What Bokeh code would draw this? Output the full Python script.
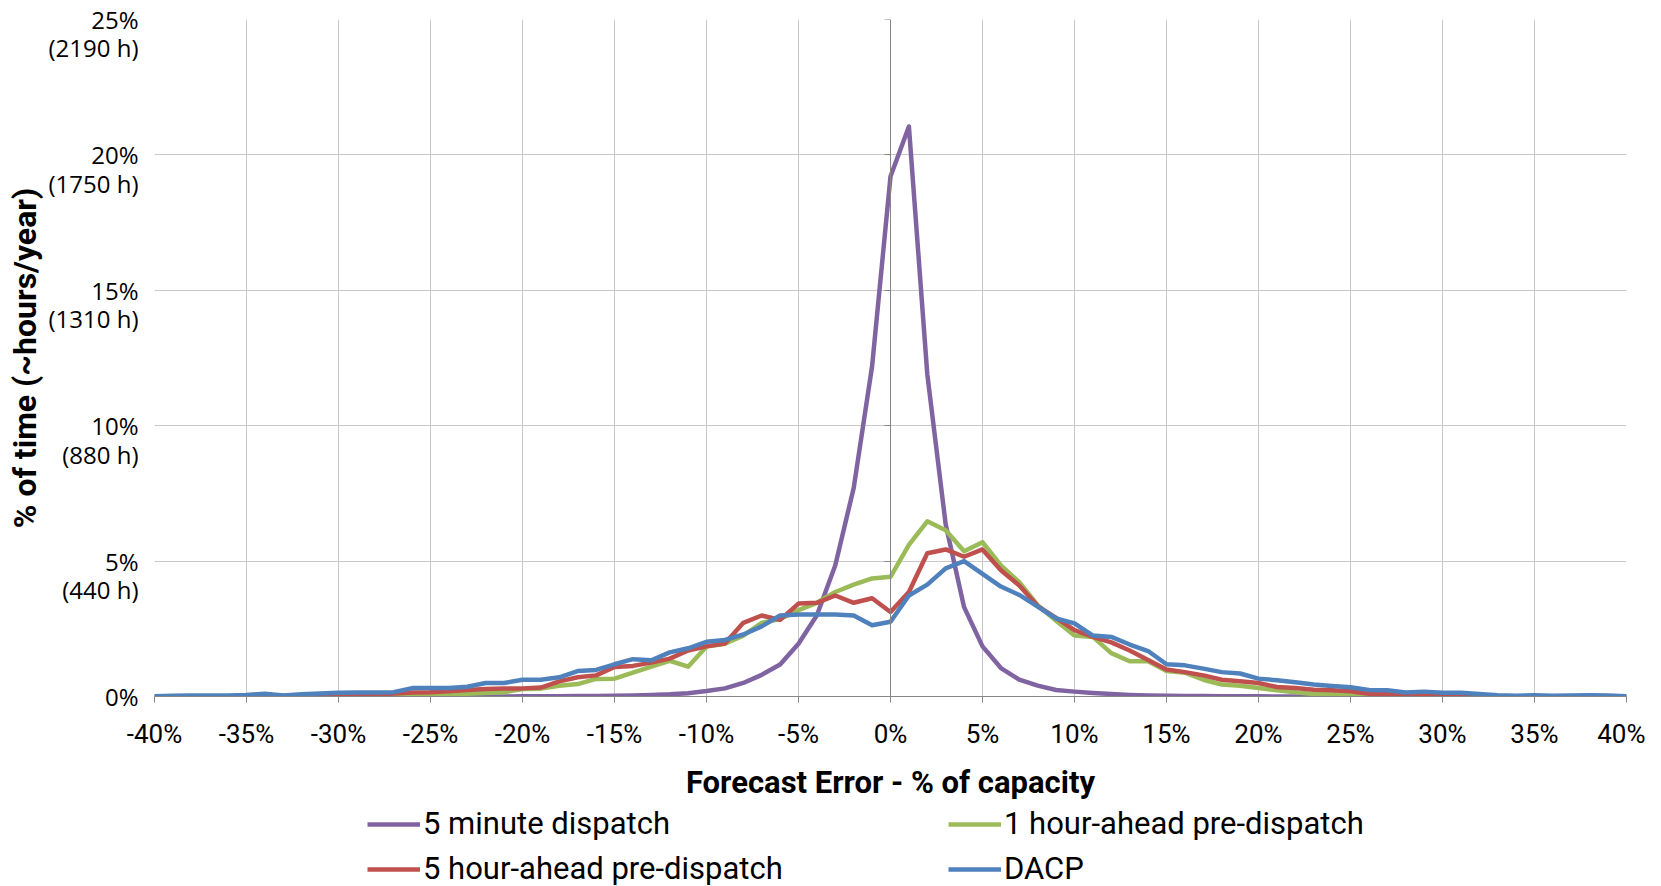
from bokeh.plotting import figure
from bokeh.layouts import column
from bokeh.models import (FixedTicker, LinearAxis, Legend, LegendItem, Range1d)
from bokeh.embed import file_html
from bokeh.resources import INLINE

# ---------------- data ----------------
error_pct = list(range(-40, 41))

five_minute = [0, 0, 0, 0, 0, 0, 0, 0, 0, 0,
               0, 0, 0, 0, 0, 0, 0, 0, 0, 0,
               0.01, 0.01, 0.01, 0.02, 0.02, 0.03, 0.04, 0.06, 0.08, 0.12,
               0.2, 0.3, 0.5, 0.8, 1.18, 1.95, 3.0, 4.85, 7.7, 12.2,
               19.2, 21.05, 11.9, 6.35, 3.3, 1.85, 1.05, 0.62, 0.4, 0.24, 0.18,
               0.13, 0.09, 0.06, 0.04, 0.03, 0.02, 0.02, 0.01, 0.01, 0.01,
               0, 0, 0, 0, 0, 0, 0, 0, 0, 0,
               0, 0, 0, 0, 0, 0, 0, 0, 0, 0]

one_hour = [0, 0, 0, 0, 0, 0, 0, 0, 0, 0,
            0, 0, 0, 0.01, 0.03, 0.04, 0.06, 0.1, 0.13, 0.16,
            0.28, 0.29, 0.4, 0.46, 0.65, 0.66, 0.88, 1.1, 1.32, 1.1,
            1.85, 1.95, 2.25, 2.72, 2.86, 3.19, 3.46, 3.86, 4.13, 4.36,
            4.42, 5.6, 6.47, 6.14, 5.36, 5.7, 4.84, 4.22, 3.37, 2.8, 2.25,
            2.2, 1.6, 1.3, 1.3, 0.94, 0.88, 0.62, 0.44, 0.4, 0.31,
            0.23, 0.16, 0.09, 0.11, 0.05, 0.04, 0.02, 0.01, 0, 0,
            0, 0, 0, 0, 0, 0, 0, 0, 0, 0]

five_hour = [0, 0, 0, 0, 0, 0.02, 0.02, 0.02, 0.02, 0.02,
             0.04, 0.04, 0.05, 0.11, 0.15, 0.16, 0.19, 0.24, 0.28, 0.3,
             0.3, 0.33, 0.56, 0.71, 0.78, 1.09, 1.13, 1.25, 1.4, 1.7,
             1.85, 1.96, 2.72, 2.99, 2.83, 3.43, 3.46, 3.73, 3.46, 3.63,
             3.12, 3.86, 5.29, 5.43, 5.16, 5.43, 4.66, 4.1, 3.34, 2.9, 2.45,
             2.2, 2.0, 1.7, 1.35, 1.0, 0.9, 0.78, 0.62, 0.56, 0.5,
             0.35, 0.31, 0.25, 0.23, 0.19, 0.1, 0.09, 0.05, 0.04, 0.03,
             0.02, 0.02, 0.01, 0.01, 0.01, 0, 0, 0, 0, 0]

dacp = [0.01, 0.03, 0.04, 0.04, 0.04, 0.06, 0.1, 0.04, 0.08, 0.11,
        0.14, 0.15, 0.15, 0.16, 0.31, 0.31, 0.31, 0.36, 0.5, 0.5,
        0.62, 0.62, 0.71, 0.94, 0.98, 1.19, 1.38, 1.34, 1.63, 1.78,
        2.02, 2.09, 2.29, 2.59, 2.99, 3.03, 3.03, 3.03, 2.99, 2.63,
        2.76, 3.73, 4.13, 4.73, 5.0, 4.53, 4.06, 3.75, 3.32, 2.88, 2.7,
        2.25, 2.2, 1.92, 1.68, 1.19, 1.15, 1.03, 0.9, 0.85, 0.66,
        0.6, 0.53, 0.44, 0.39, 0.34, 0.24, 0.23, 0.15, 0.18, 0.14,
        0.14, 0.09, 0.05, 0.03, 0.05, 0.03, 0.04, 0.05, 0.04, 0.01]

series_names = ["5 minute dispatch", "1 hour-ahead pre-dispatch",
                "5 hour-ahead pre-dispatch", "DACP"]
series_colors = ["#8064A2", "#9BBB59", "#C0504D", "#4F81BD"]

x_ticks = [-40, -35, -30, -25, -20, -15, -10, -5, 0, 5, 10, 15, 20, 25, 30, 35, 40]
x_tick_labels = ["-40%", "-35%", "-30%", "-25%", "-20%", "-15%", "-10%", "-5%", "0%",
                 "5%", "10%", "15%", "20%", "25%", "30%", "35%", "40%"]
y_ticks = [0, 5, 10, 15, 20, 25]
y_pct_labels = ["0%", "5%", "10%", "15%", "20%", "25%"]
y_hour_labels = ["", "(440 h)", "(880 h)", "(1310 h)", "(1750 h)", "(2190 h)"]

x_title = "Forecast Error - % of capacity"
y_title = "% of time (~hours/year)"

# ---------------- main figure ----------------
p = figure(width=1645, height=803,
           x_range=Range1d(-40, 40), y_range=Range1d(0, 25),
           output_backend="svg", toolbar_location=None,
           min_border_left=154, min_border_right=19,
           min_border_top=19, min_border_bottom=106)
p.outline_line_color = None
p.background_fill_color = "white"
p.border_fill_color = "white"

grid_color = "#c8c8c8"
axis_color = "#868686"

p.xgrid.ticker = FixedTicker(ticks=x_ticks)
p.ygrid.ticker = FixedTicker(ticks=y_ticks)
p.xgrid.grid_line_color = grid_color
p.ygrid.grid_line_color = grid_color
p.xgrid.grid_line_width = 1
p.ygrid.grid_line_width = 1

# x axis
xa = p.xaxis[0]
xa.ticker = FixedTicker(ticks=x_ticks)
xa.major_label_overrides = {t: s for t, s in zip(x_ticks, x_tick_labels)}
xa.axis_line_color = axis_color
xa.major_tick_line_color = axis_color
xa.major_tick_out = 6
xa.major_tick_in = 0
xa.minor_tick_line_color = None
xa.major_label_text_font = "Roboto"
xa.major_label_text_font_size = "26px"
xa.major_label_text_color = "black"
xa.major_label_standoff = 16
xa.axis_label = x_title
xa.axis_label_text_font = "Roboto"
xa.axis_label_text_font_size = "31px"
xa.axis_label_text_font_style = "bold"
xa.axis_label_text_color = "black"
xa.axis_label_standoff = 12

# y axis: percent label on the gridline, hours label one text line below it
hour_line_offset = 1.05
ya = p.yaxis[0]
label_map = {}
for t, s, h in zip(y_ticks, y_pct_labels, y_hour_labels):
    label_map[t] = s
    if h:
        label_map[t - hour_line_offset] = h
ya.ticker = FixedTicker(ticks=sorted(label_map))
ya.major_label_overrides = label_map
ya.axis_line_color = None
ya.major_tick_line_color = None
ya.minor_tick_line_color = None
ya.major_label_text_font = "Open Sans"
ya.major_label_text_font_size = "24px"
ya.major_label_text_color = "black"
ya.major_label_standoff = 10
ya.axis_label = y_title
ya.axis_label_text_font = "Roboto"
ya.axis_label_text_font_size = "32px"
ya.axis_label_text_font_style = "bold"
ya.axis_label_text_color = "black"
ya.axis_label_standoff = 2

# vertical axis line crossing at 0 % (no labels)
y0 = LinearAxis(fixed_location=0, ticker=FixedTicker(ticks=y_ticks),
                axis_line_color=axis_color, major_tick_line_color=axis_color,
                major_tick_in=6, major_tick_out=0, minor_tick_line_color=None,
                major_label_text_color=None, major_label_standoff=0)
p.add_layout(y0, "right")

series = [five_minute, one_hour, five_hour, dacp]
for vals, col in zip(series, series_colors):
    p.line(error_pct, vals, line_color=col, line_width=4.5, line_join="round")

# ---------------- legend strip below ----------------
# the key lines use the same series, drawn outside this strip's visible range
lg = figure(width=1645, height=83, x_range=Range1d(100, 101), y_range=Range1d(100, 101),
            output_backend="svg", toolbar_location=None,
            x_axis_location=None, y_axis_location=None,
            min_border_left=154, min_border_right=19, min_border_top=0, min_border_bottom=0)
lg.outline_line_color = None
lg.grid.visible = False
lg.background_fill_color = "white"
lg.border_fill_color = "white"

keys = []
for vals, col in zip(series, series_colors):
    keys.append(lg.line(error_pct, vals, line_color=col, line_width=4.5))

leg_style = dict(orientation="vertical",
                 background_fill_alpha=0, border_line_color=None, padding=0, margin=0,
                 spacing=8, glyph_width=53, glyph_height=30, label_height=30,
                 label_standoff=3, label_text_font="Roboto",
                 label_text_font_size="31px", label_text_color="black")
# column 1: 5 minute dispatch / 5 hour-ahead ; column 2: 1 hour-ahead / DACP
legend_col1 = Legend(items=[LegendItem(label=series_names[0], renderers=[keys[0]]),
                            LegendItem(label=series_names[2], renderers=[keys[2]])],
                     location=(213, -1), **leg_style)
legend_col2 = Legend(items=[LegendItem(label=series_names[1], renderers=[keys[1]]),
                            LegendItem(label=series_names[3], renderers=[keys[3]])],
                     location=(794, -1), **leg_style)
lg.add_layout(legend_col1)
lg.add_layout(legend_col2)

layout = column(p, lg, spacing=0)
open("out.html", "w").write(file_html(layout, INLINE))
